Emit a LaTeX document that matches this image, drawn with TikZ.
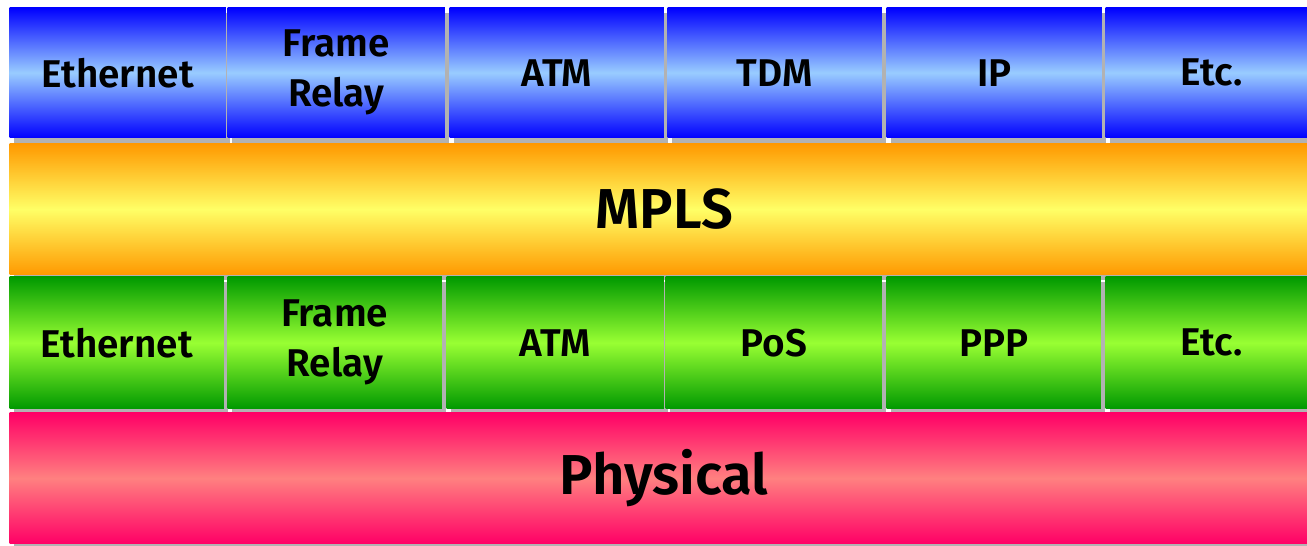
\documentclass[tikz,border=0pt]{standalone}
\usepackage{fontspec}
\setmainfont{Fira Sans}[BoldFont={Fira Sans SemiBold}]
\usetikzlibrary{shadows}

\definecolor{bluedark}{RGB}{0,0,255}
\definecolor{bluelight}{RGB}{153,204,255}
\definecolor{orangedark}{RGB}{255,153,0}
\definecolor{yellowlight}{RGB}{255,255,102}
\definecolor{greendark}{RGB}{0,153,0}
\definecolor{greenlight}{RGB}{153,255,51}
\definecolor{pinkdark}{RGB}{255,0,102}
\definecolor{pinklight}{RGB}{255,128,128}
\definecolor{shadowgray}{RGB}{178,178,178}

\begin{document}
\begin{tikzpicture}[x=0.01cm,y=-0.01cm,
  layer/.style={rectangle,anchor=north west,inner sep=0pt,align=center,
    font=\bfseries\fontsize{11}{14.2}\selectfont,
    drop shadow={shadow xshift=0.045cm,shadow yshift=-0.05cm,fill=shadowgray,opacity=1}},
  upper/.style={layer,minimum height=1.30cm,
    top color=bluedark,bottom color=bluedark,middle color=bluelight},
  label node/.style={layer,minimum height=1.31cm,minimum width=13.08cm,
    font=\bfseries\fontsize{16}{19}\selectfont,
    top color=orangedark,bottom color=orangedark,middle color=yellowlight},
  lower/.style={layer,minimum height=1.32cm,
    top color=greendark,bottom color=greendark,middle color=greenlight},
  phys node/.style={layer,minimum height=1.31cm,minimum width=13.08cm,
    font=\bfseries\fontsize{16}{19}\selectfont,
    top color=pinkdark,bottom color=pinkdark,middle color=pinklight}]

  \useasboundingbox[fill=white] (0,0) rectangle (1307,545);

  % services carried over MPLS
  \node[upper,minimum width=2.16cm] (t1) at (9,7) {Ethernet};
  \node[upper,minimum width=2.17cm] (t2) at (227,7) {Frame\\Relay};
  \node[upper,minimum width=2.14cm] (t3) at (449,7) {ATM};
  \node[upper,minimum width=2.14cm] (t4) at (667,7) {TDM};
  \node[upper,minimum width=2.15cm] (t5) at (886,7) {IP};
  \node[upper,minimum width=2.12cm] (t6) at (1105,7) {Etc.};

  \node[label node] (mpls) at (9,143) {MPLS};

  % link layers below
  \node[lower,minimum width=2.14cm] (b1) at (9,276) {Ethernet};
  \node[lower,minimum width=2.14cm] (b2) at (227,276) {Frame\\Relay};
  \node[lower,minimum width=2.17cm] (b3) at (446,276) {ATM};
  \node[lower,minimum width=2.16cm] (b4) at (665,276) {PoS};
  \node[lower,minimum width=2.14cm] (b5) at (886,276) {PPP};
  \node[lower,minimum width=2.12cm] (b6) at (1105,276) {Etc.};

  \node[phys node] (phys) at (9,412) {Physical};
\end{tikzpicture}
\end{document}
